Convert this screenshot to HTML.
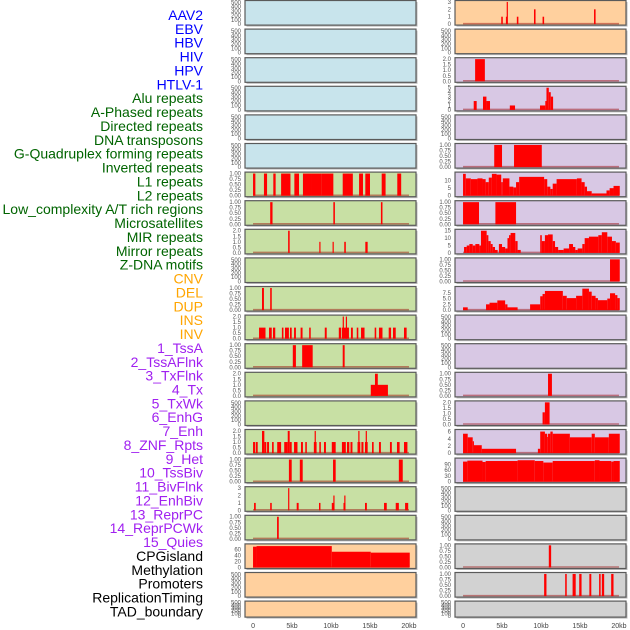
<!DOCTYPE html>
<html><head><meta charset="utf-8"><style>
html,body{margin:0;padding:0;background:#fff;}
svg{display:block;font-family:"Liberation Sans",sans-serif;}
</style></head><body>
<svg id="chart" width="630" height="630" viewBox="0 0 630 630" xmlns="http://www.w3.org/2000/svg"></svg>
<script>
// ---- labels ----
const trackLabels = ["AAV2","EBV","HBV","HIV","HPV","HTLV-1","Alu repeats","A-Phased repeats","Directed repeats","DNA transposons","G-Quadruplex forming repeats","Inverted repeats","L1 repeats","L2 repeats","Low_complexity A/T rich regions","Microsatellites","MIR repeats","Mirror repeats","Z-DNA motifs","CNV","DEL","DUP","INS","INV","1_TssA","2_TssAFlnk","3_TxFlnk","4_Tx","5_TxWk","6_EnhG","7_Enh","8_ZNF_Rpts","9_Het","10_TssBiv","11_BivFlnk","12_EnhBiv","13_ReprPC","14_ReprPCWk","15_Quies","CPGisland","Methylation","Promoters","ReplicationTiming","TAD_boundary"];
const labelGroups = ["v","v","v","v","v","v","r","r","r","r","r","r","r","r","r","r","r","r","r","s","s","s","s","s","c","c","c","c","c","c","c","c","c","c","c","c","c","c","c","o","o","o","o","o"];
const xTickValues = [0,5,10,15,20];
const xTickLabels = ["0","5kb","10kb","15kb","20kb"];

// ---- tick sets ----
const ticksEmpty = [0,100,200,300,400,500];
const ticksOne = [0,0.25,0.5,0.75,1];
const ticksTwo = [0,0.5,1,1.5,2];
const ticksThree = [0,1,2,3];
const ticksFive = [0,1,2,3,4,5];
const ticksTen = [0,5,10];
const ticksFifteen = [0,5,10,15];
const ticksSeven = [0,2.5,5,7.5];
const ticksSix = [0,2,4,6];
const ticksNinety = [0,30,60,90];
const ticksSixty = [0,20,40,60];

// ---- left column series [startKb, endKb, value] ----
const leftRow6 = [[0,0.3,1],[1.4,1.8,1],[2.6,2.9,1],[3.6,4.8,1],[5.3,5.9,1],[6.4,7.5,1],[7.5,8.8,1],[8.8,10.3,1],[11.5,12.8,1],[13.6,14.1,1],[14.4,15.0,1],[16.5,17.0,1],[18.5,19.0,1]];
const leftRow7 = [[2.2,2.5,1],[10.3,10.5,1],[16.4,16.6,1]];
const leftRow8 = [[4.5,4.7,2],[8.5,8.65,1],[10.2,10.35,1],[11.7,11.9,1],[14.4,14.7,1]];
const leftRow10 = [[1.15,1.4,1],[2.2,2.4,1]];
const leftRow11 = [[0.77,1.6,1],[2.05,2.4,1],[2.56,2.85,1],[3.7,3.9,1],[4.1,4.6,1],[4.74,4.96,1],[5.26,5.5,1],[6.1,6.35,1],[7.2,7.4,1],[9.2,9.45,1],[11.0,11.3,1],[11.4,12.3,1],[11.5,11.6,2],[11.9,12.0,2],[12.56,12.8,1],[13.3,13.5,1],[13.85,14.3,1],[15.6,15.8,1],[16.15,16.6,1],[17.4,17.7,1],[17.95,18.3,1],[19.36,19.7,1]];
const leftRow12 = [[5.1,5.5,1],[6.3,7.65,1],[11.5,11.75,1]];
const leftRow13 = [[15.1,17.3,1],[15.64,16.0,2]];
const leftRow15 = [[0,0.26,1],[0.35,0.6,1],[1.15,1.45,2],[1.45,1.7,1],[1.8,2.05,1],[2.44,2.65,1],[3.1,3.6,1],[4.0,4.45,1],[4.45,4.7,2],[4.7,4.96,1],[5.26,5.7,1],[6.15,6.4,1],[6.7,6.9,1],[7.8,8.15,1],[7.9,8.05,2],[8.5,8.7,1],[9.1,9.35,1],[10.1,10.6,1],[11.4,11.9,1],[12.05,12.35,1],[12.5,12.75,1],[13.4,13.75,1],[13.5,13.65,2],[13.9,14.16,1],[14.36,14.7,1],[14.45,14.6,2],[15.26,15.47,1],[16.15,16.4,1],[17.56,17.8,1],[18.46,18.8,1],[19.36,19.8,1]];
const leftRow16 = [[4.6,4.96,1],[6.0,6.37,1],[10.26,10.6,1],[18.7,19.2,1]];
const leftRow17 = [[0.13,0.35,1],[2.2,2.4,1],[4.5,4.65,3],[5.6,5.85,1],[8.46,8.65,1],[10.1,10.4,1],[10.3,10.4,2],[11.6,11.85,1],[11.7,11.85,2],[14.36,14.6,1],[16.8,17.15,1],[18.3,18.7,1],[19.5,19.9,1]];
const leftRow18 = [[3.08,3.3,1]];
const leftRow19 = [[0,0.45,70],[0.45,10.1,72],[10.1,15.1,53],[15.1,20.1,50]];

// ---- right column series ----
const rightRow0 = [[4.9,5.1,1],[5.5,5.7,1],[5.6,5.75,3],[6.9,7.1,1],[9.1,9.3,2],[10.2,10.4,1],[16.8,17.0,2]];
const rightRow2 = [[1.55,2.8,2]];
const rightRow3 = [[1.37,1.75,2],[2.56,3.0,3],[3.0,3.46,2],[6.0,6.67,1],[9.87,10.55,1],[10.55,10.7,2],[10.7,11.0,5],[11.0,11.25,4],[11.25,11.55,3]];
const rightRow5 = [[4.0,5.0,1],[6.54,10.1,1]];
const rightRow6 = [[0,0.35,14.5],[0.35,1.0,11.5],[1.0,1.85,11],[1.85,2.5,11.5],[2.5,2.9,11],[2.9,3.3,9],[3.3,3.7,12],[3.7,4.3,14.5],[4.3,4.9,14],[4.9,5.1,9],[5.1,5.95,11.5],[5.95,6.45,6],[6.45,6.8,5.5],[6.8,7.2,9],[7.2,10.4,12.5],[10.4,10.8,11],[10.8,11.2,6],[11.2,11.5,4.5],[11.5,12.0,8],[12.0,14.6,11],[14.6,15.2,11.5],[15.2,15.6,9],[15.6,15.9,6],[15.9,16.5,3],[16.5,18.4,1.5],[18.4,18.8,3.5],[18.8,19.3,5],[19.3,20.1,6.5]];
const rightRow7 = [[0,2.05,1],[4.15,6.8,1]];
const rightRow8 = [[0.13,0.47,4],[0.47,0.81,5],[0.81,1.24,6],[1.24,1.58,5],[1.58,2.09,6],[2.09,2.3,5],[2.3,3.03,15],[3.03,3.25,12],[3.25,3.55,8],[3.55,3.8,6],[3.8,4.1,4],[4.1,4.44,2],[4.6,5.0,6],[5.0,5.4,4],[5.4,5.7,3],[5.7,5.9,10],[5.9,6.1,12],[6.1,6.7,13.5],[6.7,7.0,8],[7.0,7.4,2],[9.9,10.1,12],[10.1,10.5,8],[10.5,10.9,12],[10.9,11.5,12.5],[11.5,11.8,8],[11.8,12.2,4],[12.2,12.9,2],[12.9,13.6,3],[13.6,14.1,6],[14.1,14.4,4],[14.4,14.7,2],[14.7,15.3,3],[15.3,15.6,6],[15.6,16.15,10],[16.15,17.35,11],[17.35,17.8,12],[17.8,18.5,14],[18.5,19.1,11],[19.1,19.6,8],[19.6,20.1,7]];
const rightRow9 = [[18.85,20.1,1]];
const rightRow10 = [[0,0.6,1.2],[2.95,3.4,2.5],[3.4,4.4,3.2],[4.4,5.4,4.2],[5.4,5.7,2.5],[5.7,7.0,1.2],[8.6,9.9,2.5],[9.9,10.2,6],[10.2,10.5,7],[10.5,12.8,8.3],[12.8,13.3,6.2],[13.3,14.5,5.2],[14.5,15.3,6.2],[15.3,16.15,9.3],[16.15,16.5,8],[16.5,17.0,6.2],[17.0,17.3,5.2],[17.3,18.5,4.3],[18.5,18.85,5],[18.85,19.5,7.3],[19.5,19.8,6.5],[19.8,20.1,5.2]];
const rightRow13 = [[10.9,11.4,1]];
const rightRow14 = [[10.2,10.5,1.1],[10.5,11.1,2]];
const rightRow15 = [[0,0.6,5.4],[0.6,1.24,4.4],[1.24,1.4,3.3],[1.4,2.4,2.2],[2.4,6.8,1.2],[9.6,9.9,1.2],[9.9,10.5,6],[10.5,10.8,5.4],[10.8,10.9,4.5],[10.9,11.2,5.4],[11.2,11.5,6],[11.5,13.7,5.4],[13.7,16.5,4.4],[16.5,16.9,5.4],[16.9,18.7,4.4],[18.7,20.1,5.4]];
const rightRow16 = [[0,0.55,105],[0.55,2.5,110],[2.5,2.9,103],[2.9,7.0,108],[7.0,9.2,112],[9.2,10.3,108],[10.3,11.5,100],[11.5,16.9,108],[16.9,17.5,112],[17.5,19.0,108],[19.0,19.3,105],[19.3,20.1,108]];
const rightRow19 = [[11.0,11.3,1]];
const rightRow20 = [[10.4,10.7,1],[13.1,13.3,1],[14.05,14.45,1],[14.9,15.2,1],[16.2,16.45,1],[17.45,17.65,1],[17.8,18.1,1],[19.0,19.3,1]];

const BLUE="#c8e4ec", GREEN="#c8e0a4", PEACH="#ffd09e", LAV="#d8c8e4", GRAY="#d2d2d2";
function P(col,row,bg,data,top,ticks,fmt){return {col,row,bg,data,top,ticks,fmt};}
const panels = [];
for(let r=0;r<22;r++){
  const lbg = r<6?BLUE:(r<19?GREEN:PEACH);
  const rbg = r<2?PEACH:(r<17?LAV:GRAY);
  panels.push({col:0,row:r,bg:lbg}); panels.push({col:1,row:r,bg:rbg});
}
function setP(col,row,data,top,ticks,fmt){const p=panels.find(q=>q.col===col&&q.row===row);p.data=data;p.top=top;p.ticks=ticks;p.fmt=fmt;}
setP(0,6,leftRow6,1.02,ticksOne,2); setP(0,7,leftRow7,1.02,ticksOne,2); setP(0,8,leftRow8,2.04,ticksTwo,1);
setP(0,10,leftRow10,1.02,ticksOne,2); setP(0,11,leftRow11,2.04,ticksTwo,1); setP(0,12,leftRow12,1.02,ticksOne,2);
setP(0,13,leftRow13,2.04,ticksTwo,1); setP(0,15,leftRow15,2.04,ticksTwo,1); setP(0,16,leftRow16,1.02,ticksOne,2);
setP(0,17,leftRow17,3.06,ticksThree,0); setP(0,18,leftRow18,1.02,ticksOne,2); setP(0,19,leftRow19,76,ticksSixty,0);
setP(1,0,rightRow0,3.06,ticksThree,0); setP(1,2,rightRow2,2.04,ticksTwo,1); setP(1,3,rightRow3,5.1,ticksFive,0);
setP(1,5,rightRow5,1.02,ticksOne,2); setP(1,6,rightRow6,15,ticksTen,0); setP(1,7,rightRow7,1.02,ticksOne,2);
setP(1,8,rightRow8,15.3,ticksFifteen,0); setP(1,9,rightRow9,1.02,ticksOne,2); setP(1,10,rightRow10,9.8,ticksSeven,1);
setP(1,13,rightRow13,1.02,ticksOne,2); setP(1,14,rightRow14,2.04,ticksTwo,1); setP(1,15,rightRow15,6.3,ticksSix,0);
setP(1,16,rightRow16,118,ticksNinety,0); setP(1,19,rightRow19,1.02,ticksOne,2); setP(1,20,rightRow20,1.02,ticksOne,2);

const NS="http://www.w3.org/2000/svg";
const svg=document.getElementById('chart');
function mk(tag,attrs,parent){const e=document.createElementNS(NS,tag);for(const k in attrs)e.setAttribute(k,attrs[k]);(parent||svg).appendChild(e);return e;}

const colX=[245,455], PW=171, pitch=28.6;
const xMin=-1.03, xMax=20.9;
function xScale(col,kb){return colX[col]+(kb-xMin)/(xMax-xMin)*PW;}

// labels
const groupColor={v:"#0000ff",r:"#006400",s:"#ffa500",c:"#a020f0",o:"#000000"};
trackLabels.forEach((t,i)=>{
  const e=mk('text',{x:203,y:15+i*13.87+5,'text-anchor':'end','font-size':'14px',fill:groupColor[labelGroups[i]]});
  e.textContent=t;
  
  
});

panels.forEach(p=>{
  const top=0.5+p.row*pitch, h=(p.row===21?16:24.6), x0=colX[p.col];
  const g=mk('g',{});
  
  
  mk('rect',{x:x0+1.5,y:top+1.5,width:PW,height:h,fill:'#bbbbbb'},g);
  mk('rect',{x:x0,y:top,width:PW,height:h,fill:p.bg},g);
  const yb=top+h-1, yt=top+1;
  const data=p.data, ymax=p.top||520, ticks=p.ticks||ticksEmpty, fmt=p.fmt||0;
  const yS=v=>yb-(v/ymax)*(yb-yt);
  if(data){
    mk('line',{x1:xScale(p.col,0),x2:xScale(p.col,20),y1:yb-0.5,y2:yb-0.5,stroke:'rgba(150,0,0,0.45)','stroke-width':1.5},g);
    data.forEach(d=>{
      const xa=xScale(p.col,d[0]), xb=xScale(p.col,d[1]);
      const r=mk('rect',{x:xa,y:yS(d[2]),width:Math.max(1.2,xb-xa),height:yb-yS(d[2]),fill:'#ff0000'},g);
      
      
    });
  }
  mk('rect',{x:x0,y:top,width:PW,height:h,fill:'none',stroke:'#5a5a5a','stroke-width':1.2},g);
  ticks.forEach(tv=>{
    const t=mk('text',{x:x0-4,y:yS(tv)+2,'text-anchor':'end','font-size':'6px',fill:'#555'},g);
    t.textContent=tv.toFixed(fmt);
    
    
  });
});

// x axes
[0,1].forEach(col=>{
  xTickValues.forEach((v,i)=>{
    const t=mk('text',{x:xScale(col,v),y:628,'text-anchor':'middle','font-size':'7px',fill:'#444'});
    t.textContent=xTickLabels[i];
    
    
  });
});
</script>
</body></html>
